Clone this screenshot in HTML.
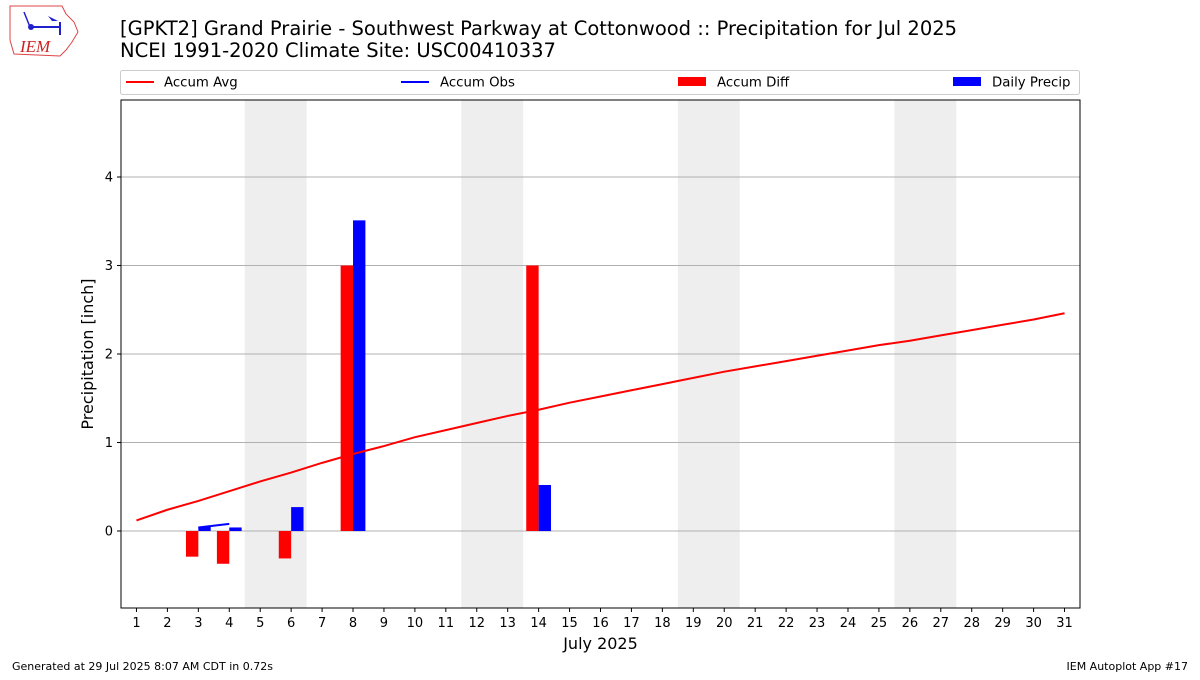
<!DOCTYPE html>
<html><head><meta charset="utf-8"><style>
body{margin:0;background:#fff;font-family:"Liberation Sans","DejaVu Sans",sans-serif}
</style></head><body>
<svg id="c" width="1200" height="675" xmlns="http://www.w3.org/2000/svg" style="font-family:'DejaVu Sans','Liberation Sans',sans-serif">
<g>
<path d="M10,6 L62,6 L66,14 L74,22 L78,32 L72,42 L66,50 L60,56 L14,54 L10,40 Z" fill="none" stroke="#d44" stroke-width="1"/>
<line x1="30" y1="27" x2="60" y2="27" stroke="#22c" stroke-width="2"/>
<line x1="60" y1="22" x2="60" y2="35" stroke="#22c" stroke-width="2"/>
<line x1="24" y1="12" x2="30" y2="27" stroke="#22c" stroke-width="1.5"/>
<circle cx="31" cy="27" r="3" fill="#22c"/>
<path d="M48,16 L58,21 L52,21 Z" fill="#22c"/>
<text x="20" y="52" font-family="Liberation Serif,serif" font-style="italic" font-size="17" fill="#c22">IEM</text>
</g>
<text x="120" y="35" font-size="19.5" fill="#000">[GPKT2] Grand Prairie - Southwest Parkway at Cottonwood :: Precipitation for Jul 2025</text>
<text x="120" y="57" font-size="19.5" fill="#000">NCEI 1991-2020 Climate Site: USC00410337</text>
<g>
<rect x="120.5" y="70.5" width="959" height="24" fill="#fff" stroke="#ccc" rx="2"/>
<g><line x1="126" y1="82" x2="154" y2="82" stroke="red" stroke-width="2"/><text x="164" y="86.5" font-size="13.3">Accum Avg</text></g>
<g><line x1="401" y1="82" x2="429" y2="82" stroke="blue" stroke-width="2"/><text x="440" y="86.5" font-size="13.3">Accum Obs</text></g>
<g><rect x="678" y="77" width="28" height="9" fill="red"/><text x="717" y="86.5" font-size="13.3">Accum Diff</text></g>
<g><rect x="953" y="77" width="28" height="9" fill="blue"/><text x="992" y="86.5" font-size="13.3">Daily Precip</text></g>
</g>
<g id="plot"></g>
<text x="12" y="670" font-size="11">Generated at 29 Jul 2025 8:07 AM CDT in 0.72s</text>
<text x="1188" y="670" font-size="11" text-anchor="end">IEM Autoplot App #17</text>
</svg>
<script>
const days=[1,2,3,4,5,6,7,8,9,10,11,12,13,14,15,16,17,18,19,20,21,22,23,24,25,26,27,28,29,30,31];
const accumAvg=[0.12,0.24,0.34,0.45,0.56,0.66,0.77,0.87,0.96,1.06,1.14,1.22,1.30,1.37,1.45,1.52,1.59,1.66,1.73,1.80,1.86,1.92,1.98,2.04,2.10,2.15,2.21,2.27,2.33,2.39,2.46];
const obsDays=[3,4];
const accumObs=[0.04,0.08];
const diffDays=[3,4,6,8,14];
const accumDiff=[-0.29,-0.37,-0.31,3.0,3.0];
const precipDays=[3,4,6,8,14];
const dailyPrecip=[0.05,0.04,0.27,3.51,0.52];
const weekendStarts=[5,12,19,26];
const yTicks=[0,1,2,3,4];
const L=121,R=1080,T=100,B=608,xmin=0.5,xmax=31.5,ymin=-0.87,ymax=4.87;
const X=v=>L+(v-xmin)/(xmax-xmin)*(R-L);
const Y=v=>B-(v-ymin)/(ymax-ymin)*(B-T);
const NS='http://www.w3.org/2000/svg';
const g=document.getElementById('plot');
function mk(t,a,p){const e=document.createElementNS(NS,t);for(const k in a)e.setAttribute(k,a[k]);(p||g).appendChild(e);return e;}
weekendStarts.forEach(d=>{const e=mk('rect',{x:X(d-0.5),y:T,width:X(d+1.5)-X(d-0.5),height:B-T,fill:'#eee'});

});
yTicks.forEach(v=>{const l=mk('line',{x1:L,x2:R,y1:Y(v),y2:Y(v),stroke:'#b0b0b0','stroke-width':1});


mk('line',{x1:L-4,x2:L,y1:Y(v),y2:Y(v),stroke:'#000'});
const t=mk('text',{x:L-8,y:Y(v)+4.5,'text-anchor':'end','font-size':13});t.textContent=v;

});
const bw=(X(1.4)-X(1));
diffDays.forEach((d,i)=>{const v=accumDiff[i];const e=mk('rect',{x:X(d-0.4),y:Math.min(Y(v),Y(0)),width:bw,height:Math.abs(Y(v)-Y(0)),fill:'red'});

});
precipDays.forEach((d,i)=>{const v=dailyPrecip[i];const e=mk('rect',{x:X(d),y:Y(v),width:bw,height:Y(0)-Y(v),fill:'blue'});

});
const p1=mk('polyline',{points:days.map((d,i)=>X(d)+','+Y(accumAvg[i])).join(' '),fill:'none',stroke:'red','stroke-width':2});


const p2=mk('polyline',{points:obsDays.map((d,i)=>X(d)+','+Y(accumObs[i])).join(' '),fill:'none',stroke:'blue','stroke-width':2});


days.forEach(d=>{mk('line',{x1:X(d),x2:X(d),y1:B,y2:B+4,stroke:'#000'});
const t=mk('text',{x:X(d),y:B+19,'text-anchor':'middle','font-size':13});t.textContent=d;

});
const fr=mk('rect',{x:L,y:T,width:R-L,height:B-T,fill:'none',stroke:'#000','stroke-width':1});


const xt=mk('text',{x:(L+R)/2,y:649,'text-anchor':'middle','font-size':16});xt.textContent='July 2025';


const yt=mk('text',{x:93,y:(T+B)/2,'text-anchor':'middle','font-size':16,transform:'rotate(-90 93 '+((T+B)/2)+')'});yt.textContent='Precipitation [inch]';


</script>
</body></html>
